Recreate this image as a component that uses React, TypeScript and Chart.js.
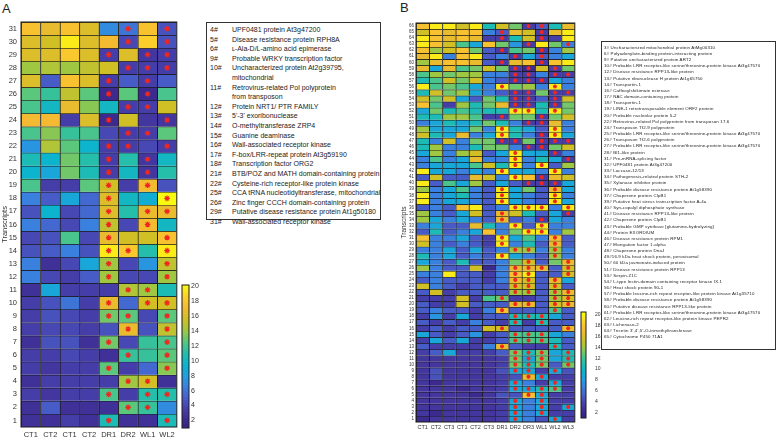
import React, { useEffect, useRef } from 'react';
import { Chart, registerables } from 'chart.js';
Chart.register(...registerables);

// ---------- Panel A data ----------
const COLS_A = ['CT1', 'CT2', 'CT1', 'CT2', 'DR1', 'DR2', 'WL1', 'WL2'];
const ROWS_A = [31, 30, 29, 28, 27, 26, 25, 24, 23, 22, 21, 20, 19, 18, 17, 16, 15, 14, 13, 12, 11, 10, 9, 8, 7, 6, 5, 4, 3, 2, 1];
const HEAT_A: number[][] = [
  [17.5, 16.5, 17.5, 16, 7, 6, 17.5, 4.5],
  [16, 15.5, 19.5, 16, 17, 4, 18.5, 4.5],
  [16, 16, 18, 16, 3.5, 16, 3, 3.5],
  [14, 14.5, 14, 15, 15.5, 3.5, 3.5, 3.5],
  [16, 5, 17.5, 16, 3.5, 5, 3.5, 5],
  [12.5, 11.5, 15, 12.5, 2, 12.5, 2, 12],
  [12, 10, 16.5, 13.5, 10, 3.5, 3.5, 15.5],
  [17, 17, 3.5, 16, 2, 15.5, 3, 3],
  [12, 13.5, 11.5, 12, 4, 3.5, 3.5, 12.5],
  [7.5, 14.5, 12.5, 9.5, 3.5, 3.5, 4, 3.5],
  [10.5, 9.5, 13, 11, 3.5, 11, 3, 10],
  [9.5, 8.5, 13, 10.5, 3.5, 10, 3, 11],
  [12, 3.5, 3.5, 12.5, 15.5, 3.5, 17, 4.5],
  [6.5, 5, 8.5, 5.5, 16, 10, 9, 20],
  [4.5, 9.5, 4, 5.5, 16, 11, 16.5, 16.5],
  [6.5, 5.5, 4, 6.5, 15, 4, 17, 10],
  [4, 4.5, 12, 4, 16.5, 15.5, 15.5, 17.5],
  [4.5, 5, 6.5, 4.5, 19.5, 18, 11, 19.5],
  [6.5, 2.5, 4, 8.5, 14, 4, 7.5, 15],
  [6.5, 4, 3.5, 5, 14, 4, 4, 14],
  [2.5, 8.5, 3.5, 3.5, 3.5, 14.5, 14, 10.5],
  [3.5, 4.5, 6, 3.5, 16.5, 5.5, 15.5, 15.5],
  [3.5, 4.5, 4, 3.5, 13, 12.5, 4, 12.5],
  [3.5, 4, 4, 3.5, 4.5, 16.5, 4.5, 15],
  [2.5, 4.5, 4.5, 2.5, 13, 4, 11.5, 12],
  [3.5, 3.5, 4, 3.5, 2.5, 11.5, 11.5, 12.5],
  [3.5, 3, 3.5, 3.5, 12.5, 3.5, 5.5, 13.5],
  [2.5, 3.5, 3.5, 3.5, 3.5, 14, 15.5, 2.5],
  [3.5, 3, 3.5, 3.5, 12, 3.5, 11, 11],
  [2.5, 5, 2.5, 2.5, 2.5, 12.5, 11.5, 7],
  [2.5, 2.5, 3.5, 2.5, 10.5, 2.5, 2.5, 10.5],
];
// column indices carrying a red asterisk, same row order as ROWS_A
const STARS_A: number[][] = [
  [5, 7], [5, 7], [4, 6, 7], [5, 6, 7], [4, 6], [4, 6], [5, 6], [4, 7], [5, 6], [4, 5, 7],
  [4, 6], [4, 6], [4, 6], [4, 7], [4, 6, 7], [4, 6], [4, 7], [4, 5, 7], [4, 7], [4, 7],
  [5, 6], [4, 6, 7], [4, 5, 7], [5, 7], [4, 7], [5, 7], [4, 7], [5, 6], [4, 6, 7], [5, 6], [4, 7],
];

// ---------- Panel B data ----------
const COLS_B = ['CT1', 'CT2', 'CT3', 'CT1', 'CT2', 'CT3', 'DR1', 'DR2', 'DR3', 'WL1', 'WL2', 'WL3'];
const ROWS_B = [66, 65, 64, 63, 62, 61, 60, 59, 58, 57, 56, 55, 54, 53, 52, 51, 50, 49, 48, 47, 46, 45, 44, 43, 42, 41, 40, 39, 38, 37, 36, 35, 34,
  33, 32, 31, 30, 29, 28, 27, 26, 25, 24, 23, 22, 21, 20, 19, 18, 17, 16, 15, 14, 13, 12, 11, 10, 9, 8, 7, 6, 5, 4, 3, 2, 1];
const HEAT_B: number[][] = [
  [17.5, 19.5, 19.5, 15.5, 19.5, 10.5, 15.5, 13, 3.5, 5, 10.5, 16.5],
  [15.5, 17.5, 16.5, 17.5, 17.5, 6.5, 5, 16.5, 15.5, 3.5, 16.5, 19.5],
  [19.5, 17.5, 16.5, 17.5, 16.5, 3.5, 3.5, 10.5, 15.5, 3.5, 3.5, 19.5],
  [19.5, 17.5, 15.5, 12, 8.5, 17.5, 13, 7.5, 3.5, 19.5, 13, 6.5],
  [17.5, 14, 15.5, 17.5, 13, 5, 3.5, 12, 13, 3.5, 6.5, 14],
  [16.5, 19.5, 6.5, 17.5, 19.5, 5, 6.5, 3.5, 8.5, 5, 6.5, 8.5],
  [14, 16.5, 17.5, 17.5, 16.5, 5, 3.5, 16.5, 17.5, 3.5, 17.5, 19.5],
  [16.5, 8.5, 16.5, 12, 13, 15.5, 13, 3.5, 2, 15.5, 3.5, 13],
  [12, 14, 13, 14, 14, 6.5, 6.5, 3.5, 3.5, 6.5, 3.5, 3.5],
  [10.5, 12, 15.5, 13, 15.5, 6.5, 5, 3.5, 3.5, 3.5, 8.5, 6.5],
  [19.5, 12, 13, 12, 8.5, 6.5, 19.5, 13, 14, 6.5, 19.5, 6.5],
  [10.5, 15.5, 13, 14, 8.5, 6.5, 5, 3.5, 3.5, 13, 3.5, 3.5],
  [15.5, 13, 15.5, 8.5, 5, 13, 10.5, 3.5, 3.5, 5, 3.5, 15.5],
  [17.5, 12, 3.5, 14, 10.5, 13, 16.5, 3.5, 3.5, 10.5, 3.5, 13],
  [8.5, 13, 10.5, 12, 10.5, 10.5, 10.5, 19.5, 19.5, 10.5, 19.5, 13],
  [10.5, 10.5, 14, 14, 12, 3.5, 3.5, 13, 13, 3.5, 13, 15.5],
  [6.5, 8.5, 10.5, 8.5, 10.5, 13, 10.5, 6.5, 3.5, 3.5, 16.5, 6.5],
  [14, 8.5, 8.5, 8.5, 13, 6.5, 19.5, 10.5, 8.5, 5, 19.5, 6.5],
  [15.5, 10.5, 8.5, 16.5, 6.5, 8.5, 19.5, 10.5, 6.5, 3.5, 19.5, 8.5],
  [10.5, 6.5, 15.5, 6.5, 13, 13, 3.5, 3.5, 13, 3.5, 3.5, 3.5],
  [10.5, 14, 6.5, 6.5, 10.5, 13, 13, 6.5, 3.5, 3.5, 13, 15.5],
  [8.5, 14, 6.5, 14, 15.5, 5, 8.5, 19.5, 8.5, 8.5, 3.5, 6.5],
  [6.5, 12, 6.5, 8.5, 16.5, 6.5, 6.5, 19.5, 6.5, 10.5, 8.5, 3.5],
  [6.5, 8.5, 8.5, 8.5, 12, 15.5, 10.5, 19.5, 6.5, 19.5, 5, 14],
  [19.5, 8.5, 8.5, 6.5, 8.5, 6.5, 19.5, 8.5, 8.5, 6.5, 19.5, 6.5],
  [5, 15.5, 5, 5, 16.5, 15.5, 6.5, 19.5, 17.5, 3.5, 16.5, 15.5],
  [19.5, 5, 12, 8.5, 14, 5, 8.5, 5, 3.5, 3.5, 3.5, 8.5],
  [14, 6.5, 8.5, 12, 6.5, 5, 19.5, 8.5, 13, 5, 16.5, 8.5],
  [19.5, 6.5, 8.5, 10.5, 6.5, 5, 19.5, 8.5, 6.5, 5, 19.5, 6.5],
  [19.5, 6.5, 8.5, 8.5, 6.5, 5, 19.5, 8.5, 6.5, 5, 19.5, 8.5],
  [5, 6.5, 5, 17.5, 19.5, 5, 6.5, 19.5, 19.5, 19.5, 6.5, 19.5],
  [14, 6.5, 5, 8.5, 15.5, 5, 16.5, 15.5, 10.5, 5, 8.5, 3.5],
  [14, 8.5, 6.5, 8.5, 6.5, 5, 16.5, 5, 6.5, 3.5, 8.5, 6.5],
  [6.5, 8.5, 5, 5, 16.5, 10.5, 6.5, 19.5, 5, 19.5, 6.5, 6.5],
  [5, 10.5, 5, 6.5, 8.5, 17.5, 6.5, 13, 19.5, 19.5, 6.5, 14],
  [17.5, 6.5, 6.5, 8.5, 5, 3.5, 19.5, 8.5, 12, 6.5, 17.5, 5],
  [15.5, 6.5, 5, 6.5, 5, 3.5, 19.5, 6.5, 10.5, 5, 16.5, 5],
  [6.5, 6.5, 8.5, 5, 8.5, 5, 6.5, 14, 14, 6.5, 14, 6.5],
  [10.5, 6.5, 8.5, 5, 6.5, 5, 19.5, 8.5, 6.5, 5, 14, 6.5],
  [8.5, 6.5, 5, 10.5, 5, 5, 6.5, 13, 15.5, 5, 13, 16.5],
  [14, 6.5, 5, 5, 15.5, 2, 6.5, 16.5, 16.5, 16.5, 5, 15.5],
  [6.5, 6.5, 19.5, 5, 5, 3.5, 6.5, 17.5, 19.5, 5, 5, 15.5],
  [5, 6.5, 5, 5, 5, 3.5, 6.5, 16.5, 15.5, 5, 16.5, 8.5],
  [15.5, 6.5, 5, 3.5, 5, 5, 5, 15.5, 15.5, 5, 15.5, 5],
  [5, 15.5, 3.5, 5, 5, 5, 5, 14, 14, 5, 14, 16.5],
  [3.5, 3.5, 3.5, 15.5, 3.5, 12, 13, 3.5, 3.5, 5, 14, 15.5],
  [5, 3.5, 3.5, 15.5, 5, 5, 5, 16.5, 16.5, 5, 15.5, 16.5],
  [5, 6.5, 5, 5, 3.5, 6.5, 17.5, 5, 5, 5, 12, 5],
  [3.5, 7.5, 3.5, 8.5, 3.5, 5, 5, 10.5, 10.5, 10.5, 8.5, 5],
  [5, 3.5, 5, 3.5, 6.5, 5, 3.5, 10.5, 3.5, 10.5, 5, 5],
  [3.5, 5, 3.5, 5, 5, 15.5, 15.5, 5, 5, 5, 5, 16.5],
  [8.5, 5, 3.5, 5, 7.5, 3.5, 5, 12, 12, 12, 8.5, 6.5],
  [3.5, 8.5, 5, 8.5, 3.5, 3.5, 5, 12, 12, 12, 10.5, 5],
  [5, 3.5, 3.5, 3.5, 3.5, 6.5, 16.5, 5, 3.5, 3.5, 10.5, 5],
  [3.5, 5, 8.5, 3.5, 3.5, 3.5, 5, 13, 10.5, 13, 8.5, 10.5],
  [3, 3, 3, 3, 3, 3, 3.5, 13, 8.5, 13, 8.5, 10.5],
  [3, 3, 3, 3, 3, 3, 3.5, 13, 10.5, 13, 5, 13],
  [3, 4.5, 3, 3, 3, 3, 4.5, 8.5, 8.5, 3.5, 8.5, 4.5],
  [3, 4.5, 3, 3, 3, 3, 3.5, 4.5, 16.5, 8.5, 3.5, 3.5],
  [3, 2, 3, 3, 3, 3, 3.5, 8.5, 6.5, 3.5, 8.5, 3.5],
  [3, 3, 3, 2, 3, 3, 3.5, 8.5, 8.5, 10.5, 12, 3.5],
  [3, 3, 3, 3, 2, 3, 4.5, 4.5, 17.5, 8.5, 3.5, 3.5],
  [3, 3, 3, 3, 3, 3, 3.5, 8.5, 6.5, 8.5, 3.5, 3.5],
  [3, 3, 3, 3, 3, 3, 3.5, 8.5, 6.5, 8.5, 3.5, 8.5],
  [3, 2, 3, 3, 3, 3, 3.5, 8.5, 6.5, 8.5, 3.5, 3.5],
  [2, 3, 3, 3, 3, 3, 3.5, 8.5, 6.5, 4.5, 8.5, 3.5],
];
const STARS_B: number[][] = [
  [8, 9], [6, 9], [6, 9], [8, 11], [6, 9], [7, 9], [6, 9], [7, 8, 10], [7, 8, 10, 11], [7, 8, 9],
  [6, 10], [7, 8, 10, 11], [7, 8, 10], [7, 8, 10], [7, 8, 10], [6, 9], [8, 9], [6, 10], [6, 9, 10], [6, 7, 9, 10, 11],
  [8, 9], [7, 10], [7, 11], [7, 9], [6, 10], [7, 9], [8, 9, 10], [6, 10], [6, 10], [6, 10],
  [7, 8, 9, 11], [6, 11], [6, 9], [7, 9], [8, 9], [6, 10], [6, 10], [7, 8, 10], [6, 10], [8, 11],
  [7, 8, 9, 11], [7, 8, 11], [7, 8, 10], [7, 8, 10], [7, 8, 10, 11], [6, 10, 11], [7, 8, 10, 11], [6, 10], [7, 8, 9], [7, 9],
  [6, 11], [7, 8, 9], [7, 8, 9], [6, 10], [7, 8, 9, 11], [7, 8, 9, 11], [7, 8, 9, 11], [7, 8, 10], [8, 9], [7, 10],
  [7, 8, 9, 10], [8, 9], [7, 9], [7, 9, 11], [7, 9], [7, 10],
];

const CBAR_TICKS = [2, 4, 6, 8, 10, 12, 14, 16, 18, 20];

const NOTE_A_IDS = ['4#', '5#', '6#', '9#', '10#', '11#', '12#', '13#', '14#', '15#', '16#', '17#', '18#', '21#', '22#', '25#', '26#', '29#', '31#'];
const NOTE_A_TEXT = [
  'UPF0481 protein At3g47200',
  'Disease resistance protein RPH8A',
  'ʟ-Ala-D/L-amino acid epimerase',
  'Probable WRKY transcription factor',
  'Uncharacterized protein At2g39795,\nmitochondrial',
  'Retrovirus-related Pol polyprotein\nfrom transposon',
  'Protein NRT1/ PTR FAMILY',
  "5'-3' exoribonuclease",
  'O-methyltransferase ZRP4',
  'Guanine deaminase',
  'Wall-associated receptor kinase',
  'F-box/LRR-repeat protein At3g59190',
  'Transcription factor ORG2',
  'BTB/POZ and MATH domain-containing protein',
  'Cysteine-rich receptor-like protein kinase',
  'CCA tRNA nucleotidyltransferase, mitochondrial',
  'Zinc finger CCCH domain-containing protein',
  'Putative disease resistance protein At1g50180',
  'Wall-associated receptor kinase',
];

const NOTES_B = [
  '3# Uncharacterized mitochondrial protein AtMg00310',
  '6# Polyadenylate-binding protein-interacting protein',
  '9# Putative uncharacterized protein ART2',
  '10# Probable LRR receptor-like serine/threonine-protein kinase At3g47570',
  '12# Disease resistance RPP13-like protein',
  '13# Putative ribonuclease H protein At1g65750',
  '14# Transportin-1',
  '16# Caffeoylshikimate esterase',
  '17# NAC domain-containing protein',
  '18# Transportin-1',
  '19# LINE-1 retrotransposable element ORF2 protein',
  '20# Probable nucleolar protein 5-2',
  '22# Retrovirus-related Pol polyprotein from transposon 17.6',
  '24# Transposon Tf2-9 polyprotein',
  '25# Probable LRR receptor-like serine/threonine-protein kinase At3g47570',
  '26# Transposon Tf2-6 polyprotein',
  '27# Probable LRR receptor-like serine/threonine-protein kinase At3g47570',
  '28# BI1-like protein',
  '31# Pre-mRNA-splicing factor',
  '32# UPF0481 protein At3g47200',
  '33# Laccase-12/13',
  '34# Pathogenesis-related protein STH-2',
  '35# Xylanase inhibitor protein',
  '36# Probable disease resistance protein At1g58390',
  '37# Chaperone protein ClpB1',
  '39# Putative heat stress transcription factor A-4a',
  '40# Syn-copalyl diphosphate synthase',
  '41# Disease resistance RPP13-like protein',
  '42# Chaperone protein ClpB1',
  '43# Probable GMP synthase [glutamine-hydrolyzing]',
  '44# Protein EXORDIUM',
  '46# Disease resistance protein RPM1',
  '47# Elongation factor 1-alpha',
  '48# Chaperone protein DnaJ',
  '49#16.9 kDa heat shock protein, peroxisomal',
  '50# 60 kDa jasmonate-induced protein',
  '51# Disease resistance protein RPP13',
  '53# Serpin-Z1C',
  '54# L-type lectin-domain containing receptor kinase IX.1',
  '56# Heat shock protein 90-1',
  '57# Probable leucine-rich repeat receptor-like protein kinase At1g35710',
  '58# Probable disease resistance protein At1g58390',
  '60# Putative disease resistance RPP13-like protein',
  '61# Probable LRR receptor-like serine/threonine-protein kinase At3g47570',
  '62# Leucine-rich repeat receptor-like protein kinase PEPR2',
  '63# Lichenase-2',
  "64# Tricetin 3',4',5'-O-trimethyltransferase",
  '65# Cytochrome P450 71A1',
];

// parula-like colour map (value -> rgb)
const CMAP: number[][] = [
  [1, 55, 34, 130],
  [2, 60, 42, 142],
  [3.5, 70, 62, 168],
  [5, 72, 92, 200],
  [6.5, 58, 128, 222],
  [8, 32, 160, 225],
  [9.5, 12, 180, 205],
  [11, 36, 190, 170],
  [12.5, 90, 199, 125],
  [14, 160, 199, 65],
  [15.5, 208, 192, 38],
  [17, 244, 186, 50],
  [18.5, 252, 206, 44],
  [20, 249, 250, 15],
];
function cmap(v: number): string {
  if (v <= CMAP[0][0]) return `rgb(${CMAP[0][1]},${CMAP[0][2]},${CMAP[0][3]})`;
  for (let i = 1; i < CMAP.length; i++) {
    if (v <= CMAP[i][0]) {
      const a = CMAP[i - 1], b = CMAP[i];
      const t = (v - a[0]) / (b[0] - a[0]);
      const c = [1, 2, 3].map((k) => Math.round(a[k] + (b[k] - a[k]) * t));
      return `rgb(${c[0]},${c[1]},${c[2]})`;
    }
  }
  const l = CMAP[CMAP.length - 1];
  return `rgb(${l[1]},${l[2]},${l[3]})`;
}

const FONT = "'Liberation Sans', Arial, sans-serif";
const frame = {
  id: 'frame',
  afterDatasetsDraw(chart: any) {
    const { ctx, chartArea: a } = chart;
    ctx.save();
    ctx.strokeStyle = '#1a1a1a';
    ctx.lineWidth = 1;
    ctx.strokeRect(a.left, a.top, a.right - a.left, a.bottom - a.top);
    ctx.restore();
  },
};

type HeatProps = {
  left: number; top: number; width: number; height: number;
  cols: string[]; rows: number[]; values: number[][]; stars: number[][];
  pad: { top: number; right: number; bottom: number; left: number };
  yAxisW: number; xAxisH: number; yTick: number; xTick: number; xPad: number; yPad: number;
  titleSize: number; titlePad: number; starR: number;
};

function Heatmap(p: HeatProps) {
  const ref = useRef<HTMLCanvasElement>(null);
  useEffect(() => {
    const datasets: any[] = p.rows.map((r, i) => ({
      type: 'bar',
      data: p.values[i].map(() => [r - 0.5, r + 0.5]),
      backgroundColor: p.values[i].map(cmap),
      borderColor: '#1a1a1a',
      borderWidth: { top: 1, left: 1, right: 0, bottom: 0 },
      borderSkipped: false,
      grouped: false,
      barPercentage: 1,
      categoryPercentage: 1,
      order: 1,
    }));
    p.rows.forEach((r, i) => {
      datasets.push({
        type: 'line',
        data: p.cols.map((_, c) => (p.stars[i].includes(c) ? r : null)),
        showLine: false,
        pointStyle: 'star',
        pointRadius: p.starR,
        pointBorderColor: '#f0261f',
        pointBackgroundColor: '#f0261f',
        pointBorderWidth: 1.2,
        borderColor: '#f0261f',
        order: 0,
      });
    });
    const chart = new Chart(ref.current as HTMLCanvasElement, {
      type: 'bar',
      data: { labels: p.cols, datasets },
      options: {
        animation: false,
        responsive: false,
        maintainAspectRatio: false,
        events: [],
        layout: { padding: p.pad },
        plugins: { legend: { display: false }, tooltip: { enabled: false } },
        scales: {
          x: {
            type: 'category',
            offset: true,
            grid: { display: false, drawTicks: false },
            border: { display: false },
            ticks: { font: { family: FONT, size: p.xTick }, color: '#333', padding: p.xPad, maxRotation: 0, autoSkip: false },
            afterFit: (s: any) => { s.height = p.xAxisH; },
          },
          y: {
            type: 'linear',
            min: 0.5,
            max: p.rows.length + 0.5,
            grid: { display: false, drawTicks: false },
            border: { display: false },
            afterBuildTicks: (s: any) => { s.ticks = p.rows.map((v) => ({ value: v })); },
            ticks: { autoSkip: false, font: { family: FONT, size: p.yTick }, color: '#333', padding: p.yPad },
            title: { display: true, text: 'Transcripts', font: { family: FONT, size: p.titleSize }, color: '#333', padding: { top: p.titlePad, bottom: 0 } },
            afterFit: (s: any) => { s.width = p.yAxisW; },
          },
        },
      } as any,
      plugins: [frame],
    });
    return () => chart.destroy();
  }, []);
  return (
    <canvas ref={ref} width={p.width} height={p.height}
      style={{ position: 'absolute', left: p.left, top: p.top, width: p.width, height: p.height }} />
  );
}

type BarProps = {
  left: number; top: number; width: number; height: number;
  pad: { top: number; right: number; bottom: number; left: number };
  max: number; axisW: number; fontSize: number; tickPad: number;
};

function ColorBar(p: BarProps) {
  const ref = useRef<HTMLCanvasElement>(null);
  useEffect(() => {
    const steps: number[] = [];
    for (let v = 1; v < p.max; v += 0.1) steps.push(v);
    const datasets = steps.map((v) => ({
      data: [[v, Math.min(v + 0.1, p.max)]],
      backgroundColor: cmap(v + 0.05),
      borderWidth: 0,
      grouped: false,
      barPercentage: 1,
      categoryPercentage: 1,
    }));
    const chart = new Chart(ref.current as HTMLCanvasElement, {
      type: 'bar',
      data: { labels: [''], datasets },
      options: {
        animation: false,
        responsive: false,
        maintainAspectRatio: false,
        events: [],
        layout: { padding: p.pad },
        plugins: { legend: { display: false }, tooltip: { enabled: false } },
        scales: {
          x: { display: false },
          y: {
            position: 'right',
            min: 1,
            max: p.max,
            grid: { display: false, drawTicks: false },
            border: { display: false },
            afterBuildTicks: (s: any) => { s.ticks = CBAR_TICKS.map((v) => ({ value: v })); },
            ticks: { font: { family: FONT, size: p.fontSize }, color: '#333', padding: p.tickPad, autoSkip: false },
            afterFit: (s: any) => { s.width = p.axisW; },
          },
        },
      } as any,
      plugins: [frame],
    });
    return () => chart.destroy();
  }, []);
  return (
    <canvas ref={ref} width={p.width} height={p.height}
      style={{ position: 'absolute', left: p.left, top: p.top, width: p.width, height: p.height }} />
  );
}

export default function App() {
  return (
    <div style={{ position: 'fixed', left: 0, top: 0, width: 778, height: 439, background: '#fff', fontFamily: FONT, overflow: 'hidden' }}>
      <div style={{ position: 'absolute', left: 2, top: 1, fontSize: 13, color: '#222' }}>A</div>
      <div style={{ position: 'absolute', left: 400, top: 0, fontSize: 13, color: '#222' }}>B</div>

      <Heatmap left={0} top={10} width={182} height={429} cols={COLS_A} rows={ROWS_A} values={HEAT_A} stars={STARS_A}
        pad={{ top: 12, right: 5, bottom: 0, left: 0 }} yAxisW={21} xAxisH={12} yTick={7.5} xTick={7.5} xPad={3} yPad={4}
        titleSize={7.5} titlePad={0} starR={2.8} />
      <ColorBar left={178} top={275} width={40} height={164} pad={{ top: 10, right: 0, bottom: 11, left: 4 }}
        max={20.1} axisW={29} fontSize={7} tickPad={2} />

      <div style={{ position: 'absolute', left: 206, top: 22, width: 175, height: 198, boxSizing: 'border-box', border: '1px solid #333',
        padding: '2px 0 0 3px', fontSize: 7, lineHeight: '9.6px', color: '#222' }}>
        {NOTE_A_IDS.map((id, i) => (
          <div key={i} style={{ display: 'flex', whiteSpace: 'pre' }}>
            <span style={{ width: 22, flex: 'none' }}>{id}</span>
            <span>{NOTE_A_TEXT[i]}</span>
          </div>
        ))}
      </div>

      <Heatmap left={396} top={10} width={184} height={429} cols={COLS_B} rows={ROWS_B} values={HEAT_B} stars={STARS_B}
        pad={{ top: 13, right: 4, bottom: 0, left: 0 }} yAxisW={20} xAxisH={17} yTick={4.5} xTick={5.5} xPad={2} yPad={2}
        titleSize={6.5} titlePad={4} starR={2} />
      <ColorBar left={578} top={300} width={30} height={130} pad={{ top: 11, right: 0, bottom: 7, left: 3 }}
        max={20.5} axisW={22} fontSize={5} tickPad={9} />

      <div style={{ position: 'absolute', left: 601, top: 41, width: 175, height: 309, boxSizing: 'border-box', border: '1px solid #333',
        overflow: 'hidden' }}>
        <div style={{ position: 'absolute', left: 2, top: 2, width: 346, transform: 'scale(0.5)', transformOrigin: '0 0',
          fontSize: 8.8, letterSpacing: '0.3px', lineHeight: '12.34px', color: '#222' }}>
          {NOTES_B.map((t, i) => (
            <div key={i} style={{ whiteSpace: 'nowrap', height: 12.34 }}>{t}</div>
          ))}
        </div>
      </div>
    </div>
  );
}
